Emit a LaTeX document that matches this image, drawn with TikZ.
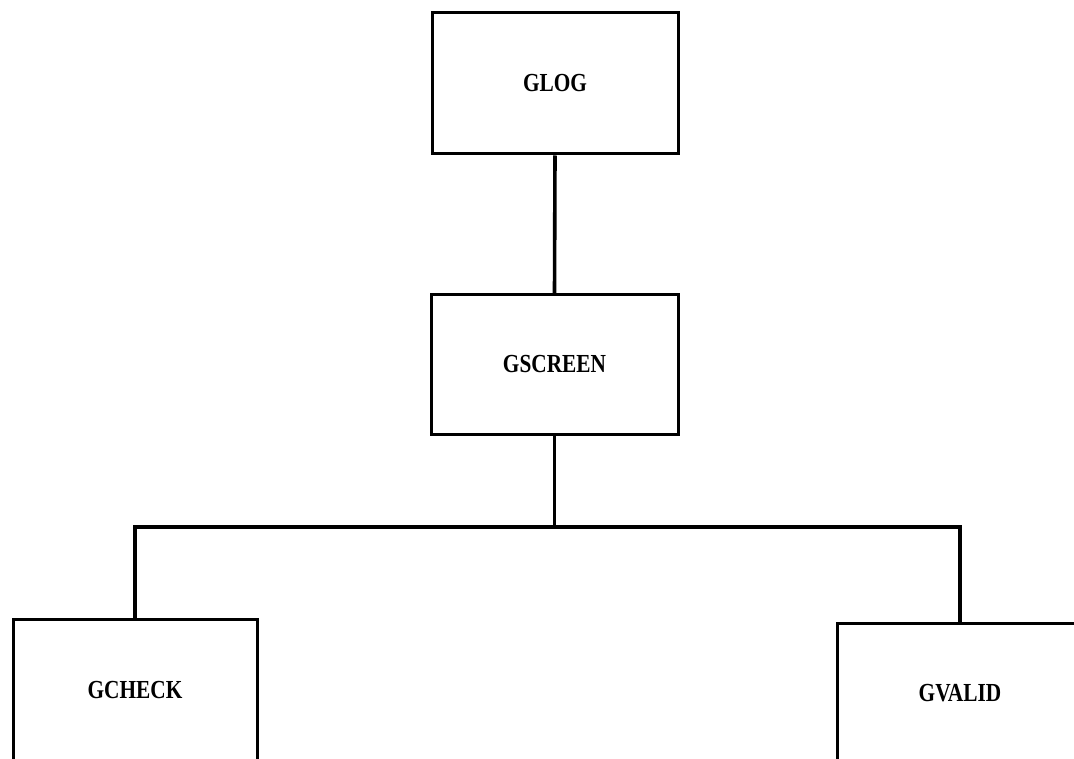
\documentclass[tikz,border=0pt]{standalone}
\usepackage{fontspec}
\newfontfamily\labelfont[FakeStretch=0.82]{Liberation Serif}
\begin{document}
\begin{tikzpicture}[x=1pt,y=-1pt,
  box/.style={draw=black,line width=3pt,fill=white,inner sep=0pt,
    font=\labelfont\bfseries\fontsize{26}{26}\selectfont},
  link/.style={draw=black,line width=3.6pt,line join=miter}]
\useasboundingbox (0,0) rectangle (1074,759);
\clip (0,0) rectangle (1074,759);
\fill[white] (0,0) rectangle (1074,759);
\node[box,minimum width=246pt,minimum height=141pt] (glog) at (555,83.5) {GLOG};
\node[box,minimum width=247pt,minimum height=139pt] (gscreen) at (554.5,364.5) {GSCREEN};
\node[box,minimum width=244pt,minimum height=143pt] (gcheck) at (135,690.5) {GCHECK};
\node[box,minimum width=246pt,minimum height=140pt] (gvalid) at (960,693) {GVALID};
\coordinate (bus) at (554.5,527);
\draw[link] (glog.south) -- (gscreen.north);
\draw[link] (gscreen.south) -- (bus);
\draw[link] (gcheck.north) |- (bus) -| (gvalid.north);
\end{tikzpicture}
\end{document}
